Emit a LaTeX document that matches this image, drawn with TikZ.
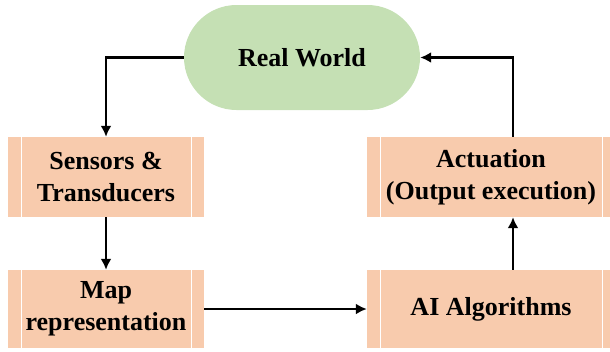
\documentclass[tikz,border=0pt]{standalone}
\usepackage{fontspec}
\setmainfont{Liberation Serif}
\usetikzlibrary{shapes.misc,arrows.meta,calc}

\definecolor{boxfill}{HTML}{F8CBAD}
\definecolor{worldfill}{HTML}{C5E0B4}

\tikzset{
  txt/.style={font=\bfseries\fontsize{26}{32}\selectfont, align=center, inner sep=0pt},
  procbox/.style={txt, fill=boxfill, minimum height=80pt,
    path picture={\draw[white, line width=1pt]
      ([xshift=13pt]path picture bounding box.north west) -- ([xshift=13pt]path picture bounding box.south west)
      ([xshift=-13pt]path picture bounding box.north east) -- ([xshift=-13pt]path picture bounding box.south east);}},
  flow/.style={line width=2.4pt, -{Latex[length=11pt,width=11pt]}},
}

\begin{document}
\begin{tikzpicture}[x=1pt,y=-1pt]
\useasboundingbox (0,0) rectangle (610,351);

% the loop: world -> sensing -> map -> AI -> actuation -> world
\node[txt, rounded rectangle, fill=worldfill, minimum width=236pt, minimum height=105pt] (world) at (302,57.5) {Real World};
\node[procbox, minimum width=196pt] (sensors) at (106,177) {Sensors \&\\Transducers};
\node[procbox, minimum width=196pt, minimum height=78pt] (map) at (106,309) {Map\\representation};
\node[procbox, minimum width=248pt] (actuation) at (491,177) {Actuation\\(Output execution)};
\node[procbox, minimum width=248pt, minimum height=78pt] (ai) at (491,309) {AI Algorithms};

\coordinate (upAI) at ($(ai.north)+(22,0)$);
\coordinate (upAct) at ($(actuation.north)+(22,0)$);

\draw[flow] (world.west) -| (sensors.north);
\draw[flow] (sensors) -- (map);
\draw[flow] (map.east) -- (ai.west);
\draw[flow] (upAI) -- (upAI |- actuation.south);
\draw[flow] (upAct) |- (world.east);
\end{tikzpicture}
\end{document}
